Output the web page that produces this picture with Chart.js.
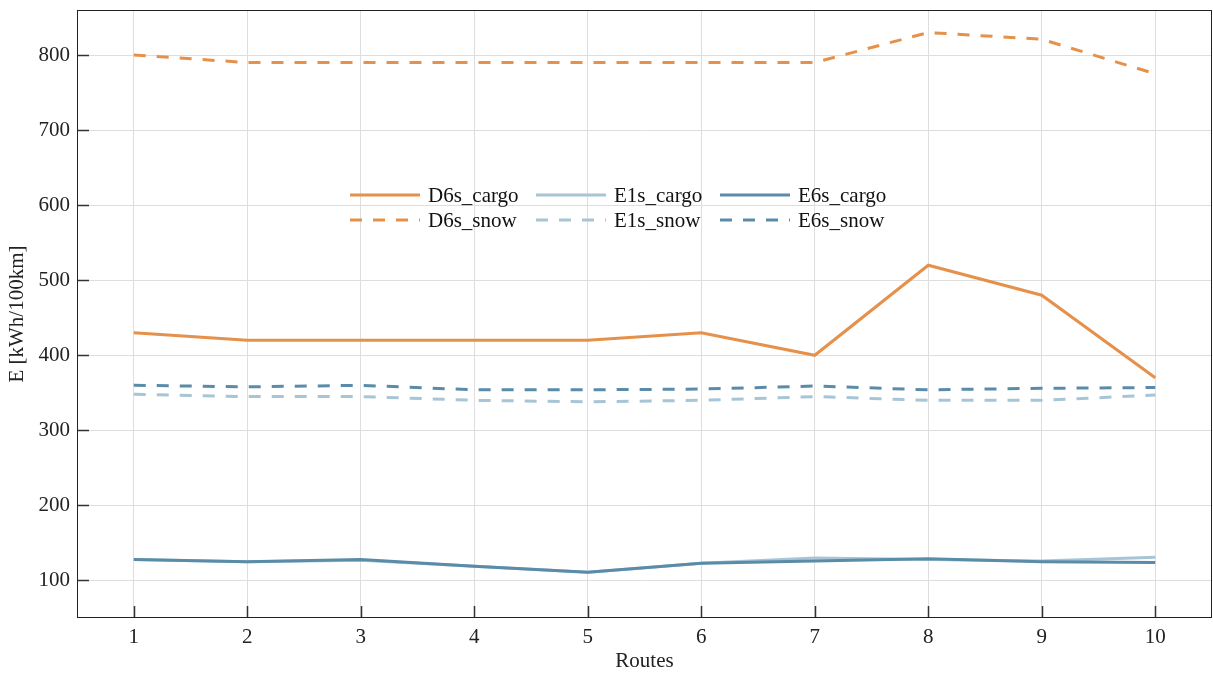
<!DOCTYPE html>
<html>
<head>
<meta charset="utf-8">
<script src="https://cdn.jsdelivr.net/npm/chart.js@4.4.1/dist/chart.umd.min.js"></script>
<style>
  html, body { margin: 0; padding: 0; background: #fff; }
  #wrap { width: 1213px; height: 674px; }
</style>
</head>
<body>
<div id="wrap"><canvas id="energyChart"></canvas></div>
<script>
// routes on the x axis
const routes = ['1', '2', '3', '4', '5', '6', '7', '8', '9', '10'];
const yTicks = [100, 200, 300, 400, 500, 600, 700, 800];

// energy use per route, kWh/100km
const d6sCargo = [430, 420, 420, 420, 420, 430, 400, 520, 480, 370];
const e1sCargo = [128, 125, 127, 119, 111, 123, 130, 128, 126, 131];
const e6sCargo = [128, 125, 128, 119, 111, 123, 126, 129, 125, 124];
const d6sSnow = [800, 790, 790, 790, 790, 790, 790, 830, 821, 775];
const e1sSnow = [348, 345, 345, 340, 338, 340, 345, 340, 340, 347];
const e6sSnow = [360, 358, 360, 354, 354, 355, 359, 354, 356, 357];

const ORANGE = '#e6914b';
const LIGHT = '#a8c5d6';
const DARK = '#5a8caa';
const DASH = [12, 11];
const FONT = '"Liberation Serif", "DejaVu Serif", serif';
const FONT_SIZE = 21;

function series(label, data, color, dashed, order) {
  return {
    label: label,
    data: data,
    borderColor: color,
    backgroundColor: color,
    borderWidth: 3,
    borderDash: dashed ? DASH : [],
    pointRadius: 0,
    tension: 0,
    fill: false,
    order: order,
  };
}

// ticks pointing into the plot plus a full frame
const frameTicks = {
  id: 'frameTicks',
  afterDatasetsDraw(chart) {
    const { ctx, chartArea: a, scales: { x, y } } = chart;
    ctx.save();
    ctx.strokeStyle = '#333';
    ctx.lineWidth = 1.5;
    ctx.beginPath();
    y.ticks.forEach((t) => {
      const py = Math.round(y.getPixelForValue(t.value)) + 0.5;
      ctx.moveTo(a.left, py);
      ctx.lineTo(a.left + 12, py);
    });
    x.ticks.forEach((t, i) => {
      const px = Math.round(x.getPixelForTick(i)) + 0.5;
      ctx.moveTo(px, a.bottom);
      ctx.lineTo(px, a.bottom - 12);
    });
    ctx.stroke();
    ctx.strokeStyle = '#222';
    ctx.lineWidth = 1;
    ctx.strokeRect(a.left + 0.5, a.top + 0.5, a.right - a.left - 1, a.bottom - a.top - 1);
    ctx.restore();
  },
};

// legend laid out as 3 columns x 2 rows inside the plot
const gridLegend = {
  id: 'gridLegend',
  afterDraw(chart) {
    const { ctx, chartArea: a } = chart;
    const cols = [
      ['D6s_cargo', 'D6s_snow'],
      ['E1s_cargo', 'E1s_snow'],
      ['E6s_cargo', 'E6s_snow'],
    ];
    const colX = [273, 459, 643];
    const rowY = [185, 210];
    ctx.save();
    ctx.font = FONT_SIZE + 'px ' + FONT;
    ctx.textBaseline = 'middle';
    ctx.fillStyle = '#111';
    cols.forEach((col, ci) => {
      col.forEach((label, ri) => {
        const ds = chart.data.datasets.find((d) => d.label === label);
        const x0 = a.left + colX[ci];
        const y0 = a.top + rowY[ri];
        ctx.strokeStyle = ds.borderColor;
        ctx.lineWidth = 3;
        ctx.setLineDash(ds.borderDash);
        ctx.beginPath();
        ctx.moveTo(x0, y0);
        ctx.lineTo(x0 + 70, y0);
        ctx.stroke();
        ctx.setLineDash([]);
        ctx.fillText(label, x0 + 78, y0 + 1);
      });
    });
    ctx.restore();
  },
};

const tickFont = { family: FONT, size: FONT_SIZE };

new Chart(document.getElementById('energyChart'), {
  type: 'line',
  data: {
    labels: routes,
    datasets: [
      series('D6s_cargo', d6sCargo, ORANGE, false, 2),
      series('E1s_cargo', e1sCargo, LIGHT, false, 4),
      series('E6s_cargo', e6sCargo, DARK, false, 3),
      series('D6s_snow', d6sSnow, ORANGE, true, 1),
      series('E1s_snow', e1sSnow, LIGHT, true, 1),
      series('E6s_snow', e6sSnow, DARK, true, 1),
    ],
  },
  options: {
    responsive: true,
    maintainAspectRatio: false,
    animation: false,
    layout: { padding: { top: 10, right: 1, left: 0, bottom: 0 } },
    plugins: {
      legend: { display: false },
      tooltip: { enabled: false },
    },
    scales: {
      x: {
        offset: true,
        grid: { color: '#dedede', drawTicks: false },
        border: { display: false },
        ticks: { color: '#222', font: tickFont, padding: 7, maxRotation: 0 },
        title: { display: true, text: 'Routes', color: '#222', font: tickFont, padding: { top: 0, bottom: 0 } },
        afterFit(scale) {
          scale.height = 56;
          scale.paddingLeft = 0;
          scale.paddingRight = 0;
        },
      },
      y: {
        min: 50,
        max: 860,
        grid: { color: '#dedede', drawTicks: false },
        border: { display: false },
        ticks: { color: '#222', font: tickFont, padding: 7 },
        afterBuildTicks(scale) { scale.ticks = yTicks.map((v) => ({ value: v })); },
        title: { display: true, text: 'E [kWh/100km]', color: '#222', font: tickFont, padding: { top: 5, bottom: 0 } },
        afterFit(scale) {
          scale.width = 77;
          scale.paddingTop = 0;
          scale.paddingBottom = 0;
        },
      },
    },
  },
  plugins: [frameTicks, gridLegend],
});
</script>
</body>
</html>
